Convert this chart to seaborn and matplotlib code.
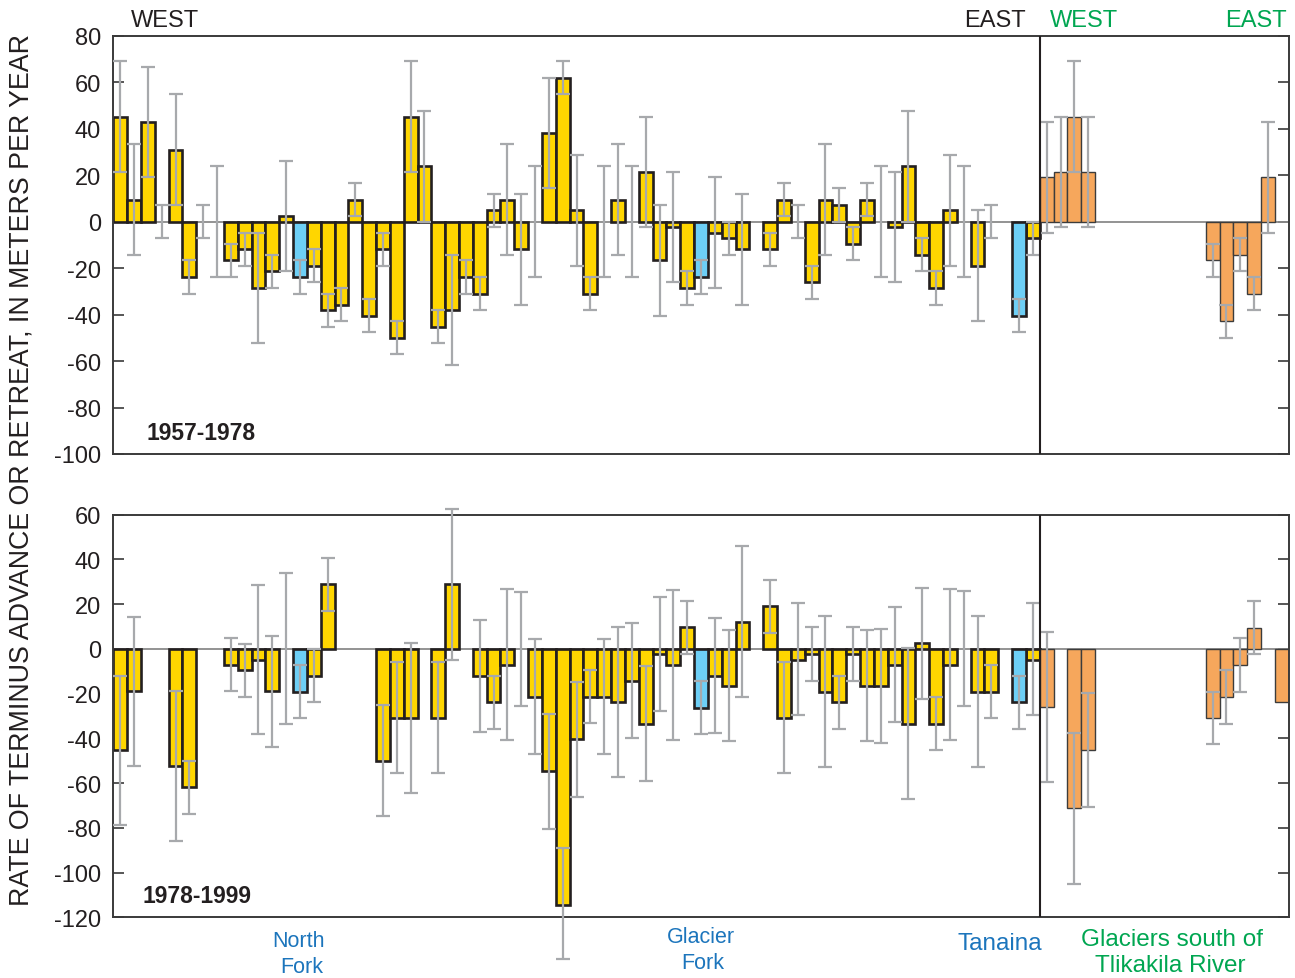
import numpy as np
import pandas as pd
import matplotlib
matplotlib.use("Agg")
import matplotlib.pyplot as plt
import seaborn as sns

# ---------------------------------------------------------------------------
# Terminus advance (+) / retreat (-) rates, m/yr, one slot per glacier,
# ordered west -> east.  low/high give the uncertainty range of each rate.
# A NaN rate means only the uncertainty range is shown for that glacier.
# group: "main" = other glaciers, "named" = North Fork / Glacier Fork / Tanaina,
#        "south" = glaciers south of Tlikakila River
# ---------------------------------------------------------------------------
nan = np.nan

# 1957-1978
top_slot = [0, 1, 2, 3, 4, 5, 6, 7, 8, 9, 10, 11, 12, 13, 14, 15, 16, 17, 18, 19,
            20, 21, 22, 23, 24, 25, 26, 27, 28, 29, 30, 31, 32, 33, 34, 35, 36, 37,
            38, 39, 40, 41, 42, 43, 44, 45, 47, 48, 49, 50, 51, 52, 53, 54, 55, 56,
            57, 58, 59, 60, 61, 62, 63, 65, 66,
            67, 68, 69, 70, 79, 80, 81, 82, 83]
top_rate = [45.2, 9.5, 42.9, nan, 31.0, -23.8, nan, nan, -16.7, -11.9, -28.6, -21.4,
            2.4, -23.8, -19.0, -38.1, -35.7, 9.5, -40.5, -11.9,
            -50.0, 45.2, 23.8, -45.2, -38.1, -23.8, -31.0, 4.8, 9.5, -11.9, nan, 38.1,
            61.9, 4.8, -31.0, nan, 9.5, nan,
            21.4, -16.7, -2.4, -28.6, -23.8, -4.8, -7.1, -11.9, -11.9, 9.5, nan, -26.2,
            9.5, 7.1, -9.5, 9.5, nan, -2.4,
            23.8, -14.3, -28.6, 4.8, nan, -19.0, nan, -40.5, -7.1,
            19.0, 21.4, 45.2, 21.4, -16.7, -42.9, -14.3, -31.0, 19.0]
top_low = [21.4, -14.3, 19.0, -7.1, 7.1, -31.0, -7.1, -23.8, -23.8, -19.0, -52.4, -28.6,
           -21.4, -31.0, -26.2, -45.2, -42.9, 2.4, -47.6, -19.0,
           -57.1, 21.4, 0.0, -52.4, -61.9, -31.0, -38.1, -2.4, -14.3, -35.7, -23.8, 14.3,
           54.8, -19.0, -38.1, -23.8, -14.3, -23.8,
           -2.4, -40.5, -26.2, -35.7, -31.0, -28.6, -14.3, -35.7, -19.0, 2.4, -7.1, -33.3,
           -14.3, 0.0, -16.7, 2.4, -23.8, -26.2,
           0.0, -21.4, -35.7, -19.0, -23.8, -42.9, -7.1, -47.6, -14.3,
           -4.8, -2.4, 21.4, -2.4, -23.8, -50.0, -21.4, -38.1, -4.8]
top_high = [69.0, 33.3, 66.7, 7.1, 54.8, -16.7, 7.1, 23.8, -9.5, -4.8, -4.8, -14.3,
            26.2, -16.7, -11.9, -31.0, -28.6, 16.7, -33.3, -4.8,
            -42.9, 69.0, 47.6, -38.1, -14.3, -16.7, -23.8, 11.9, 33.3, 11.9, 23.8, 61.9,
            69.0, 28.6, -23.8, 23.8, 33.3, 23.8,
            45.2, 7.1, 21.4, -21.4, -16.7, 19.0, 0.0, 11.9, -4.8, 16.7, 7.1, -19.0,
            33.3, 14.3, -2.4, 16.7, 23.8, 21.4,
            47.6, -7.1, -21.4, 28.6, 23.8, 4.8, 7.1, -33.3, 0.0,
            42.9, 45.2, 69.0, 45.2, -9.5, -35.7, -7.1, -23.8, 42.9]
top_group = (["main"] * 13 + ["named"] + ["main"] * 28 + ["named"] + ["main"] * 20
             + ["named", "main"] + ["south"] * 9)

# 1978-1999
bot_slot = [0, 1, 4, 5, 8, 9, 10, 11, 12, 13, 14, 15, 19, 20, 21, 23, 24, 26, 27, 28,
            29, 30, 31, 32, 33, 34, 35, 36, 37, 38, 39, 40, 41, 42, 43, 44, 45, 47,
            48, 49, 50, 51, 52, 53, 54, 55, 56, 57, 58, 59, 60, 61, 62, 63, 65, 66,
            67, 69, 70, 79, 80, 81, 82, 84]
bot_rate = [-45.2, -19.0, -52.4, -61.9, -7.1, -9.5, -4.8, -19.0, nan, -19.1, -12.1, 28.8,
            -50.1, -31.0, -31.0, -31.0, 28.8, -11.9, -23.8, -7.3,
            nan, -21.3, -54.7, -114.3, -40.5, -21.3, -21.3, -23.8, -14.2, -33.5, -2.2,
            -7.3, 9.7, -26.4, -11.9, -16.8, 12.2, 19.4,
            -31.0, -4.8, -2.2, -19.1, -23.8, -2.2, -16.8, -16.8, -7.3, -33.5, 2.5, -33.5,
            -7.3, nan, -19.1, -19.1, -23.8, -4.8,
            -26.1, -71.2, -45.2, -30.8, -21.3, -7.2, 9.5, -23.8]
bot_low = [-78.6, -52.4, -85.7, -73.8, -19.0, -21.4, -38.1, -43.8, -33.5, -30.8, -23.8, 16.8,
           -74.8, -55.6, -64.5, -55.6, -4.9, -37.0, -35.8, -40.7,
           -25.6, -46.9, -80.3, -138.6, -66.0, -33.2, -46.9, -57.4, -39.9, -58.9, -27.9,
           -40.7, -2.2, -38.0, -37.6, -41.4, -21.6, 7.2,
           -55.6, -29.5, -14.2, -52.6, -35.8, -14.2, -41.4, -42.2, -32.8, -66.9, -22.4, -45.2,
           -40.7, -25.5, -52.6, -30.8, -35.8, -29.5,
           -59.6, -105.1, -70.8, -42.6, -33.4, -19.1, -2.4, nan]
bot_high = [-11.9, 14.3, -19.0, -50.0, 4.8, 2.4, 28.6, 5.8, 33.8, -7.0, 0.1, 40.7,
            -25.0, -5.9, 2.8, -6.0, 62.4, 13.1, -11.9, 26.7,
            25.6, 4.3, -29.1, -89.1, -14.9, -9.4, 4.3, 9.8, 11.6, -7.5, 23.2,
            26.5, 21.6, -14.2, 13.9, 8.5, 45.8, 31.0,
            -6.0, 20.3, 9.7, 14.6, -11.9, 9.7, 8.3, 9.1, 18.6, 0.4, 27.3, -21.3,
            26.7, 25.8, 14.8, -7.2, -11.9, 20.3,
            7.7, -37.7, -19.7, -19.1, -9.4, 4.9, 21.5, nan]
bot_group = (["main"] * 9 + ["named"] + ["main"] * 23 + ["named"] + ["main"] * 20
             + ["named", "main"] + ["south"] * 8)

N_SLOTS = 85
DIVIDE = 66.5

YELLOW = "#FFD600"
BLUE = "#6DCFF6"
ORANGE = "#F6A75C"
EDGE = "#231F20"
ERR = "#A7A9AC"
AXIS = "#3A3A3A"
TXT_BLUE = "#1C75BC"
TXT_GREEN = "#00A651"

sns.set_style("white")
plt.rcParams["font.family"] = ["Liberation Sans", "DejaVu Sans"]
plt.rcParams["axes.unicode_minus"] = False

fig = plt.figure(figsize=(12.95, 9.79), dpi=100)
W, H = 1295.0, 979.0


def fx(px):
    return px / W


def fy(py):
    return 1.0 - py / H


ax_top = fig.add_axes([fx(113.3), fy(455.0), (1288.7 - 113.3) / W, (455.0 - 36.7) / H])
ax_bot = fig.add_axes([fx(113.3), fy(918.3), (1288.7 - 113.3) / W, (918.3 - 515.7) / H])


def draw_panel(ax, slot, rate, low, high, group, ylim, ticks):
    df = pd.DataFrame({"slot": slot, "rate": rate, "low": low,
                       "high": high, "group": group})

    ax.axhline(0, color="#8A8A8A", lw=1.3, zorder=1)

    bars = df.dropna(subset=["rate"])
    north = bars[bars["group"] != "south"]
    south = bars[bars["group"] == "south"]
    sns.barplot(data=north, x="slot", y="rate", hue="group",
                palette={"main": YELLOW, "named": BLUE}, native_scale=True,
                width=1.0, dodge=False, errorbar=None, legend=False, saturation=1,
                edgecolor=EDGE, linewidth=1.9, ax=ax, zorder=2)
    sns.barplot(data=south, x="slot", y="rate", hue="group",
                palette={"south": ORANGE}, native_scale=True,
                width=1.0, dodge=False, errorbar=None, legend=False, saturation=1,
                edgecolor="#3C3C3C", linewidth=1.0, ax=ax, zorder=2)

    rng = df.dropna(subset=["low", "high"])
    mid = (rng["low"] + rng["high"]) / 2
    half = (rng["high"] - rng["low"]) / 2
    eb = ax.errorbar(rng["slot"], mid, yerr=half, fmt="none", ecolor=ERR,
                     elinewidth=1.6, capsize=5, capthick=1.6, zorder=3)
    for art in list(eb.lines[1]) + list(eb.lines[2]):
        art.set_clip_on(False)

    ax.axvline(DIVIDE, color=EDGE, lw=1.5, zorder=4)

    ax.set_xlim(-0.5, N_SLOTS - 0.5)
    ax.set_ylim(*ylim)
    ax.set_yticks(ticks)
    ax.set_yticklabels([str(t) for t in ticks])
    ax.set_xticks([])
    ax.set_xlabel("")
    ax.set_ylabel("")
    ax.tick_params(axis="y", direction="in", length=8, width=1.2, color=AXIS,
                   left=True, right=True, labelsize=17, pad=9, labelcolor="#231F20")
    for sp in ax.spines.values():
        sp.set_color(AXIS)
        sp.set_linewidth(1.4)


draw_panel(ax_top, top_slot, top_rate, top_low, top_high, top_group,
           (-100, 80), list(range(80, -101, -20)))
draw_panel(ax_bot, bot_slot, bot_rate, bot_low, bot_high, bot_group,
           (-120, 60), list(range(60, -121, -20)))

# period labels
fig.text(fx(146), fy(434), "1957-1978", fontsize=16.5, fontweight="bold",
         color="#231F20", va="center", ha="left")
fig.text(fx(142), fy(897), "1978-1999", fontsize=16.5, fontweight="bold",
         color="#231F20", va="center", ha="left")

# direction labels above the top panel
fig.text(fx(131), fy(21), "WEST", fontsize=17, color="#231F20", va="center", ha="left")
fig.text(fx(1026), fy(21), "EAST", fontsize=17, color="#231F20", va="center", ha="right")
fig.text(fx(1050), fy(21), "WEST", fontsize=17, color=TXT_GREEN, va="center", ha="left")
fig.text(fx(1287), fy(21), "EAST", fontsize=17, color=TXT_GREEN, va="center", ha="right")

# glacier names below the bottom panel
fig.text(fx(299), fy(942), "North", fontsize=15.5, color=TXT_BLUE, va="center", ha="center")
fig.text(fx(302), fy(968), "Fork", fontsize=15.5, color=TXT_BLUE, va="center", ha="center")
fig.text(fx(701), fy(938), "Glacier", fontsize=15.5, color=TXT_BLUE, va="center", ha="center")
fig.text(fx(703), fy(964), "Fork", fontsize=15.5, color=TXT_BLUE, va="center", ha="center")
fig.text(fx(1000), fy(944), "Tanaina", fontsize=17.5, color=TXT_BLUE, va="center", ha="center")
fig.text(fx(1172), fy(940), "Glaciers south of", fontsize=17.5, color=TXT_GREEN,
         va="center", ha="center")
fig.text(fx(1170), fy(966), "Tlikakila River", fontsize=17.5, color=TXT_GREEN,
         va="center", ha="center")

fig.text(fx(22), fy(470), "RATE OF TERMINUS ADVANCE OR RETREAT, IN METERS PER YEAR",
         rotation=90, fontsize=19.3, color="#231F20", va="center", ha="center")

fig.savefig("out.png", dpi=100)
